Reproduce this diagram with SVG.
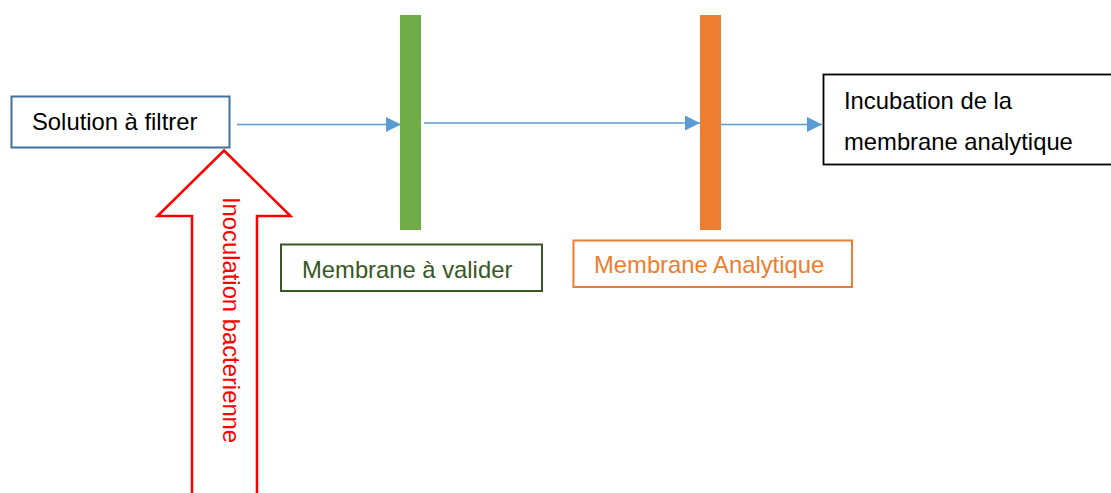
<svg xmlns="http://www.w3.org/2000/svg" width="1111" height="493" viewBox="0 0 1111 493">
<style>
text{font-family:"Liberation Sans",Arial,sans-serif;font-size:23.8px}
.conn{stroke:#5B9BD5;stroke-width:1.3;fill:none}
</style>
<defs>
<marker id="ah" markerUnits="userSpaceOnUse" markerWidth="16" markerHeight="16" refX="15" refY="7.5" orient="auto">
<path d="M0,0 L15,7.5 L0,15 z" fill="#5B9BD5"/>
</marker>
</defs>
<rect width="1111" height="493" fill="#ffffff"/>
<g id="connectors">
<line class="conn" x1="237" y1="124.5" x2="401" y2="124.5" marker-end="url(#ah)"/>
<line class="conn" x1="424" y1="123" x2="700" y2="123" marker-end="url(#ah)"/>
<line class="conn" x1="721" y1="124.5" x2="822" y2="124.5" marker-end="url(#ah)"/>
</g>
<g id="solution">
<rect x="11.5" y="96.5" width="218" height="51" fill="#ffffff" stroke="#41719C" stroke-width="2"/>
<text x="32" y="130" fill="#000000">Solution à filtrer</text>
</g>
<g id="membrane-valider-bar">
<rect x="400" y="15" width="21" height="215" fill="#70AD47"/>
</g>
<g id="membrane-analytique-bar">
<rect x="700" y="15" width="21" height="215" fill="#ED7D31"/>
</g>
<g id="incubation">
<rect x="823.5" y="74.5" width="300" height="90" fill="#ffffff" stroke="#000000" stroke-width="1.8"/>
<text x="844" y="109" fill="#000000">Incubation de la</text>
<text x="844" y="150" fill="#000000">membrane analytique</text>
</g>
<g id="membrane-valider-label">
<rect x="281" y="244.5" width="261" height="46.5" fill="#ffffff" stroke="#385723" stroke-width="2"/>
<text x="302" y="277.7" fill="#385723">Membrane à valider</text>
</g>
<g id="membrane-analytique-label">
<rect x="573.5" y="240.5" width="278.5" height="46.5" fill="#ffffff" stroke="#ED7D31" stroke-width="2"/>
<text x="594" y="273.3" fill="#ED7D31">Membrane Analytique</text>
</g>
<g id="inoculation">
<polygon points="224,150.5 290.5,216 257,216 257,500 192,500 192,216 157.5,216" fill="#ffffff" stroke="#FF0000" stroke-width="2.5"/>
<text x="223" y="197" fill="#FF0000" transform="rotate(90 223 197)">Inoculation bacterienne</text>
</g>
</svg>
